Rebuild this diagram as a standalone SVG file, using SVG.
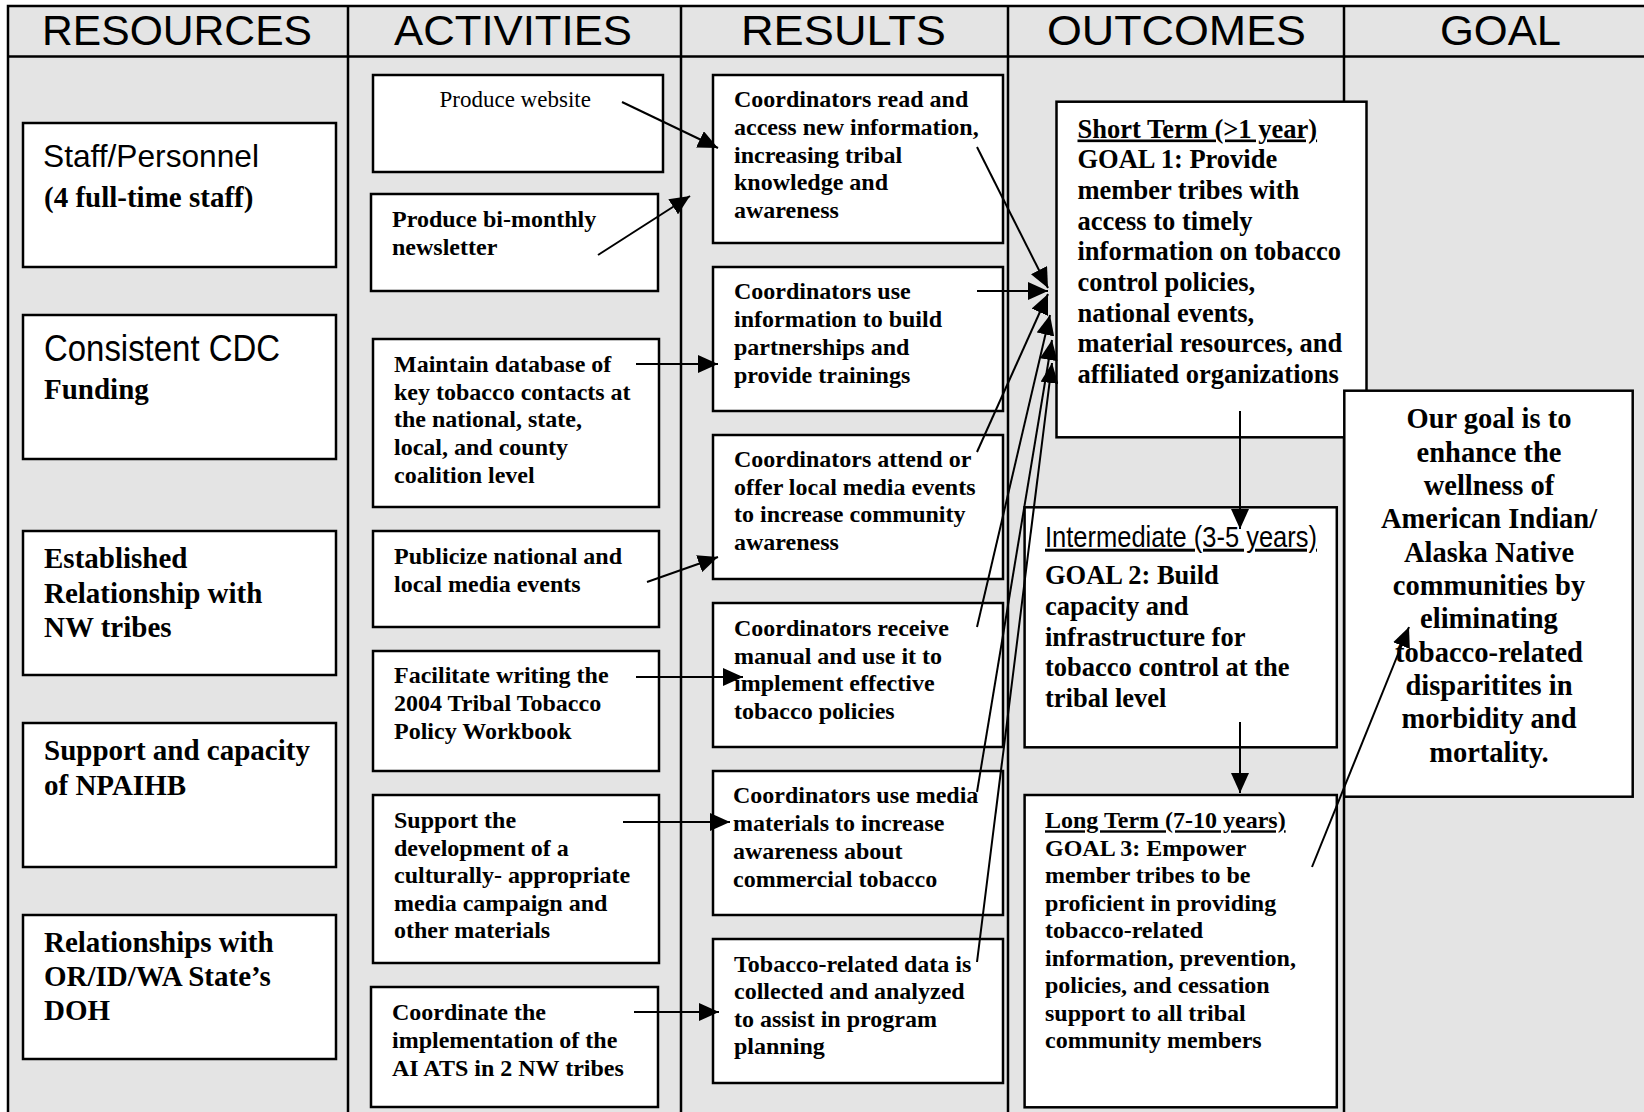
<svg xmlns="http://www.w3.org/2000/svg" width="1644" height="1112" viewBox="0 0 1644 1112">
<style>
.bg{fill:#e4e4e4;stroke:#000;stroke-width:2.5}
.dv{stroke:#000;stroke-width:2.5}
.bx{fill:#fff;stroke:#000;stroke-width:2.5}
.t{font-family:"Liberation Serif","Times New Roman",serif;font-weight:bold;font-size:24px;fill:#000}
.reg{font-weight:normal;font-size:23px}
.r29{font-size:29px}
.o26{font-size:26.5px}
.g28{font-size:28.5px}
.hw{font-family:"Liberation Sans",Arial,sans-serif;font-weight:normal;fill:#000}
.hd{font-size:42px}
.u{text-decoration:underline}
.cn{stroke:#000;stroke-width:2;fill:none;marker-end:url(#ah)}
</style>
<defs>
<marker id="ah" markerUnits="userSpaceOnUse" viewBox="0 0 20 18" markerWidth="20" markerHeight="18" refX="20" refY="9" orient="auto">
<path d="M0,0 L20,9 L0,18 z" fill="#000"/>
</marker>
</defs>
<rect x="0" y="0" width="1644" height="1112" fill="#fff"/>
<g id="frame">
<rect class="bg" x="8" y="6" width="1650" height="1120"/>
<line class="dv" x1="8" y1="56.5" x2="1644" y2="56.5"/>
<line class="dv" x1="348" y1="6" x2="348" y2="1112"/>
<line class="dv" x1="681" y1="6" x2="681" y2="1112"/>
<line class="dv" x1="1008" y1="6" x2="1008" y2="1112"/>
<line class="dv" x1="1344" y1="6" x2="1344" y2="1112"/>
</g>
<g id="headers" class="hw hd">
<text x="42" y="45" textLength="270" lengthAdjust="spacingAndGlyphs">RESOURCES</text>
<text x="394" y="45" textLength="238" lengthAdjust="spacingAndGlyphs">ACTIVITIES</text>
<text x="741" y="45" textLength="205" lengthAdjust="spacingAndGlyphs">RESULTS</text>
<text x="1047" y="45" textLength="259" lengthAdjust="spacingAndGlyphs">OUTCOMES</text>
<text x="1440" y="45" textLength="121" lengthAdjust="spacingAndGlyphs">GOAL</text>
</g>
<g id="res1"><rect class="bx" x="23" y="123" width="313" height="144"/>
<text class="hw" x="43" y="167" font-size="32" textLength="216" lengthAdjust="spacingAndGlyphs">Staff/Personnel</text>
<text class="t r29" x="44" y="206.7">(4 full-time staff)</text></g>
<g id="res2"><rect class="bx" x="23" y="315" width="313" height="144"/>
<text class="hw" x="44" y="360.7" font-size="36" textLength="236" lengthAdjust="spacingAndGlyphs">Consistent CDC</text>
<text class="t r29" x="44" y="399">Funding</text></g>
<g id="res3"><rect class="bx" x="23" y="531" width="313" height="144"/>
<text class="t r29"><tspan x="44" y="568.3">Established</tspan><tspan x="44" y="603.3">Relationship with</tspan><tspan x="44" y="636.7">NW tribes</tspan></text></g>
<g id="res4"><rect class="bx" x="23" y="723" width="313" height="144"/>
<text class="t r29"><tspan x="44" y="760">Support and capacity</tspan><tspan x="44" y="795">of NPAIHB</tspan></text></g>
<g id="res5"><rect class="bx" x="23" y="915" width="313" height="144"/>
<text class="t r29"><tspan x="44" y="952.3">Relationships with</tspan><tspan x="44" y="986">OR/ID/WA State’s</tspan><tspan x="44" y="1020">DOH</tspan></text></g>
<g id="act1"><rect class="bx" x="373" y="75" width="290" height="97"/>
<text class="t reg" x="439.5" y="106.7">Produce website</text></g>
<g id="act2"><rect class="bx" x="371" y="194" width="287" height="97"/>
<text class="t"><tspan x="392" y="226.7">Produce bi-monthly</tspan><tspan x="392" y="255">newsletter</tspan></text></g>
<g id="act3"><rect class="bx" x="373" y="339" width="286" height="168"/>
<text class="t"><tspan x="394" y="371.7">Maintain database of</tspan><tspan x="394" y="400">key tobacco contacts at</tspan><tspan x="394" y="427.3">the national, state,</tspan><tspan x="394" y="455">local, and county</tspan><tspan x="394" y="482.7">coalition level</tspan></text></g>
<g id="act4"><rect class="bx" x="373" y="531" width="286" height="96"/>
<text class="t"><tspan x="394" y="564">Publicize national and</tspan><tspan x="394" y="591.7">local media events</tspan></text></g>
<g id="act5"><rect class="bx" x="373" y="651" width="286" height="120"/>
<text class="t"><tspan x="394" y="683.3">Facilitate writing the</tspan><tspan x="394" y="711">2004 Tribal Tobacco</tspan><tspan x="394" y="738.5">Policy Workbook</tspan></text></g>
<g id="act6"><rect class="bx" x="373" y="795" width="286" height="168"/>
<text class="t"><tspan x="394" y="828.3">Support the</tspan><tspan x="394" y="856">development of a</tspan><tspan x="394" y="883.3">culturally- appropriate</tspan><tspan x="394" y="910.7">media campaign and</tspan><tspan x="394" y="938.3">other materials</tspan></text></g>
<g id="act7"><rect class="bx" x="371" y="987" width="287" height="120"/>
<text class="t"><tspan x="392" y="1020">Coordinate the</tspan><tspan x="392" y="1048.3">implementation of the</tspan><tspan x="392" y="1076">AI ATS in 2 NW tribes</tspan></text></g>
<g id="rs1"><rect class="bx" x="713" y="75" width="290" height="168"/>
<text class="t"><tspan x="734" y="106.7">Coordinators read and</tspan><tspan x="734" y="135">access new information,</tspan><tspan x="734" y="162.7">increasing tribal</tspan><tspan x="734" y="190">knowledge and</tspan><tspan x="734" y="217.7">awareness</tspan></text></g>
<g id="rs2"><rect class="bx" x="713" y="267" width="290" height="144"/>
<text class="t"><tspan x="734" y="299.3">Coordinators use</tspan><tspan x="734" y="327.3">information to build</tspan><tspan x="734" y="355">partnerships and</tspan><tspan x="734" y="382.7">provide trainings</tspan></text></g>
<g id="rs3"><rect class="bx" x="713" y="435" width="290" height="144"/>
<text class="t"><tspan x="734" y="466.7">Coordinators attend or</tspan><tspan x="734" y="494.5">offer local media events</tspan><tspan x="734" y="522.4">to increase community</tspan><tspan x="734" y="550.4">awareness</tspan></text></g>
<g id="rs4"><rect class="bx" x="713" y="603" width="290" height="144"/>
<text class="t"><tspan x="734" y="636">Coordinators receive</tspan><tspan x="734" y="663.5">manual and use it to</tspan><tspan x="734" y="691">implement effective</tspan><tspan x="734" y="719">tobacco policies</tspan></text></g>
<g id="rs5"><rect class="bx" x="713" y="771" width="290" height="144"/>
<text class="t"><tspan x="733" y="803.3">Coordinators use media</tspan><tspan x="733" y="831.3">materials to increase</tspan><tspan x="733" y="859">awareness about</tspan><tspan x="733" y="886.7">commercial tobacco</tspan></text></g>
<g id="rs6"><rect class="bx" x="713" y="939" width="290" height="144"/>
<text class="t"><tspan x="734" y="971.7">Tobacco-related data is</tspan><tspan x="734" y="999.3">collected and analyzed</tspan><tspan x="734" y="1026.7">to assist in program</tspan><tspan x="734" y="1054">planning</tspan></text></g>
<g id="out1"><rect class="bx" x="1056.5" y="101.7" width="310" height="335.6"/>
<text class="t o26"><tspan class="u" x="1077.5" y="137.5">Short Term (&gt;1 year)</tspan><tspan x="1077.5" y="168.2">GOAL 1: Provide</tspan><tspan x="1077.5" y="198.9">member tribes with</tspan><tspan x="1077.5" y="229.6">access to timely</tspan><tspan x="1077.5" y="260.3">information on tobacco</tspan><tspan x="1077.5" y="291">control policies,</tspan><tspan x="1077.5" y="321.7">national events,</tspan><tspan x="1077.5" y="352.4">material resources, and</tspan><tspan x="1077.5" y="383.1">affiliated organizations</tspan></text></g>
<g id="out2"><rect class="bx" x="1024.6" y="507.3" width="312.2" height="240"/>
<text class="hw u" x="1045" y="546.7" font-size="30" textLength="272" lengthAdjust="spacingAndGlyphs">Intermediate (3-5 years)</text>
<text class="t o26"><tspan x="1045" y="584">GOAL 2: Build</tspan><tspan x="1045" y="615">capacity and</tspan><tspan x="1045" y="645.5">infrastructure for</tspan><tspan x="1045" y="676">tobacco control at the</tspan><tspan x="1045" y="706.7">tribal level</tspan></text></g>
<g id="out3"><rect class="bx" x="1024.6" y="795" width="312.2" height="312.3"/>
<text class="t"><tspan class="u" x="1045" y="828.3">Long Term (7-10 years)</tspan><tspan x="1045" y="856">GOAL 3: Empower</tspan><tspan x="1045" y="883.3">member tribes to be</tspan><tspan x="1045" y="911">proficient in providing</tspan><tspan x="1045" y="938.3">tobacco-related</tspan><tspan x="1045" y="965.7">information, prevention,</tspan><tspan x="1045" y="993.3">policies, and cessation</tspan><tspan x="1045" y="1020.7">support to all tribal</tspan><tspan x="1045" y="1048.3">community members</tspan></text></g>
<g id="goal"><rect class="bx" x="1344.3" y="390.7" width="288.4" height="406"/>
<text class="t g28" text-anchor="middle"><tspan x="1489" y="428.3">Our goal is to</tspan><tspan x="1489" y="461.7">enhance the</tspan><tspan x="1489" y="495">wellness of</tspan><tspan x="1489" y="528.3">American Indian/</tspan><tspan x="1489" y="561.7">Alaska Native</tspan><tspan x="1489" y="595">communities by</tspan><tspan x="1489" y="628.3">eliminating</tspan><tspan x="1489" y="661.7">tobacco-related</tspan><tspan x="1489" y="695">disparitites in</tspan><tspan x="1489" y="728.3">morbidity and</tspan><tspan x="1489" y="761.7">mortality.</tspan></text></g>
<g id="connectors">
<line class="cn" x1="622" y1="102" x2="718" y2="148"/>
<line class="cn" x1="598" y1="255" x2="690" y2="196"/>
<line class="cn" x1="636" y1="364" x2="718" y2="364"/>
<line class="cn" x1="647" y1="582" x2="718" y2="557"/>
<line class="cn" x1="636" y1="677" x2="743" y2="677"/>
<line class="cn" x1="623" y1="822" x2="730" y2="822"/>
<line class="cn" x1="634" y1="1012" x2="719" y2="1012"/>
<line class="cn" x1="977" y1="147" x2="1048" y2="288"/>
<line class="cn" x1="977" y1="291" x2="1048" y2="291"/>
<line class="cn" x1="977" y1="452" x2="1048" y2="294"/>
<line class="cn" x1="977" y1="627" x2="1050" y2="315"/>
<line class="cn" x1="977" y1="792" x2="1052" y2="340"/>
<line class="cn" x1="977" y1="962" x2="1052" y2="363"/>
<line class="cn" x1="1240" y1="411" x2="1240" y2="529"/>
<line class="cn" x1="1240" y1="722" x2="1240" y2="793"/>
<line class="cn" x1="1312" y1="867" x2="1409" y2="627"/>
</g>
</svg>
